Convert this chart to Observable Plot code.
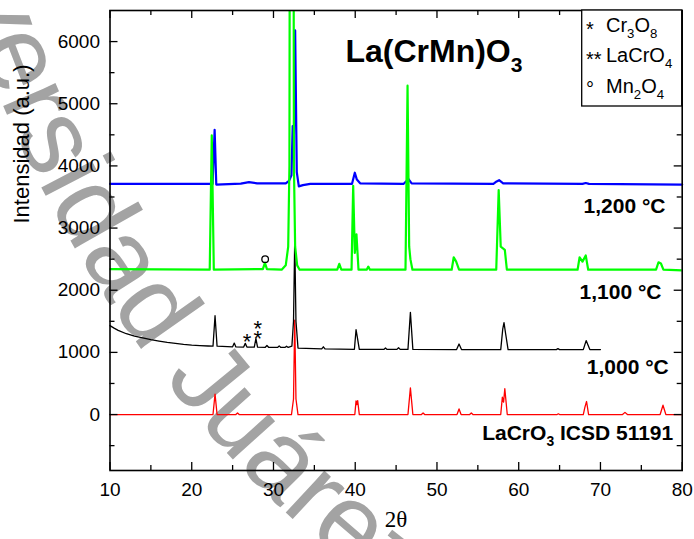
<!DOCTYPE html>
<html><head><meta charset="utf-8">
<script src="https://cdn.jsdelivr.net/npm/d3@7"></script>
<script src="https://cdn.jsdelivr.net/npm/@observablehq/plot@0.6"></script>
<style>body{margin:0;background:#fff;} #chart{width:694px;height:539px;}</style>
</head><body><div id="chart"></div>
<script>
// ---- axis ticks ----
const xTicks = [10, 20, 30, 40, 50, 60, 70, 80];
const xMinor = [15, 25, 35, 45, 55, 65, 75];
const yTicks = [0, 1000, 2000, 3000, 4000, 5000, 6000];
const yMinor = [-500, 500, 1500, 2500, 3500, 4500, 5500];

// ---- patterns: [2theta, intensity] ----
const ref51191 = [[10,0],[22.6,0],[22.85,330],[23.1,0],[25.4,0],[25.6,25],[25.8,0],[32.2,0],[32.45,250],[32.6,1520],[32.75,250],[33.0,0],
  [39.95,0],[40.1,220],[40.2,160],[40.3,225],[40.5,0],[46.45,0],[46.75,430],[47.05,0],[48.1,0],[48.3,25],[48.5,0],
  [52.45,0],[52.7,90],[52.95,0],[54.0,0],[54.2,25],[54.4,0],[57.8,0],[58.0,280],[58.15,200],[58.3,415],[58.6,0],
  [64.7,0],[64.85,12],[65.0,0],[67.9,0],[68.1,120],[68.3,210],[68.55,0],[72.7,0],[73.0,35],[73.3,0],[77.3,0],[77.65,150],[78.0,0],[80,0]];
const t1000 = [[10,1430],[10.5,1390],[11,1355],[12,1300],[13,1262],[14,1232],[15,1205],[16,1182],[17,1162],[18,1145],[19,1130],[20,1118],[21,1110],[22,1103],
  [22.6,1100],[22.85,1590],[23.1,1100],[25.0,1090],[25.2,1150],[25.4,1088],[26.35,1085],[26.55,1145],[26.75,1085],[27.65,1085],[27.85,1222],[28.05,1085],
  [29.0,1082],[29.2,1110],[29.4,1082],[30.5,1080],[30.7,1105],[30.9,1080],[31.4,1080],[31.6,1100],[31.8,1080],[32.25,1100],[32.45,1500],[32.6,2810],[32.75,1500],[33.0,1070],
  [35.9,1055],[36.1,1090],[36.3,1055],[39.9,1050],[40.1,1365],[40.25,1250],[40.5,1050],[43.5,1048],[43.7,1070],[43.9,1048],[45.1,1048],[45.3,1075],[45.5,1048],
  [46.45,1048],[46.75,1645],[47.05,1048],[52.4,1045],[52.7,1135],[53.0,1045],[57.8,1045],[58.05,1380],[58.2,1480],[58.4,1300],[58.7,1045],
  [64.6,1045],[64.8,1060],[65.0,1045],[67.9,1045],[68.25,1190],[68.7,1045],[70,1045]];
const t1100 = [[10,2340],[22.2,2330],[22.45,4490],[22.7,2330],[28.7,2340],[28.95,2440],[29.2,2340],[31.0,2330],[31.5,2400],[31.8,2700],[31.95,4000],[32.0,9000],
  [32.45,9000],[32.5,4000],[32.65,2700],[32.9,2400],[33.2,2330],[37.8,2330],[38.05,2425],[38.3,2330],[39.55,2330],[39.75,3680],[39.95,2600],[40.15,2900],[40.4,2330],
  [41.4,2330],[41.6,2380],[41.8,2330],[46.15,2330],[46.4,5290],[46.6,2700],[46.75,2500],[47.0,2330],[51.8,2330],[52.05,2530],[52.35,2460],[52.7,2330],
  [57.25,2330],[57.55,3610],[57.8,2700],[58.3,2650],[58.55,2330],[67.2,2330],[67.45,2530],[67.8,2460],[68.2,2560],[68.5,2330],[76.8,2330],[77.1,2450],[77.4,2430],[77.7,2330],[80,2320]];
const t1200 = [[10,3710],[22.55,3710],[22.8,4580],[23.0,3700],[26.0,3715],[27.0,3740],[28.0,3720],[31.5,3720],[31.9,3760],[32.2,3850],[32.35,4640],[32.5,4500],[32.65,6180],
  [32.85,3900],[33.1,3670],[33.6,3690],[34.5,3710],[39.6,3710],[39.95,3890],[40.2,3780],[40.6,3720],[45.9,3710],[46.3,3760],[46.5,3790],[46.9,3720],
  [56.9,3710],[57.3,3750],[57.6,3770],[58.1,3720],[67.8,3710],[68.2,3725],[68.6,3710],[80,3700]];

// ---- text ----
const curveLabels = ["1,200 °C", "1,100 °C", "1,000 °C", "LaCrO_3 ICSD 51191"];
const curveLabelX = [77.96, 77.47, 78.36, 78.9];
const curveLabelY = [3346, 1967, 756, -301];
const titleText = ["La(CrMn)O_3"];
const titleX = [38.8];
const titleY = [5834];
const starText = ["*", "*", "*"];
const starX = [26.75, 28.09, 28.09];
const starY = [1278, 1483, 1333];
const ringX = [28.98];
const ringY = [2500];
const legendSymbols = ["*", "**", "°"];
const legendNames = ["Cr_3O_8", "LaCrO_4", "Mn_2O_4"];
const xLabel = ["2θ"];
const yLabel = ["Intensidad (a.u.)"];
const watermark = "Universidad Juárez Autónoma de Tabasco";

const W = 694 - 109.5 - 12.3, H = 539 - 10 - 69;
const px = d => d[0], py = d => d[1];

const svg = Plot.plot({
  width: 694, height: 539,
  marginLeft: 109.5, marginRight: 12.3, marginTop: 10, marginBottom: 69,
  x: {domain: [10, 80]},
  y: {domain: [-900, 6500]},
  style: {fontFamily: "'Liberation Sans', Arial, sans-serif", fontSize: "19px", background: "white", color: "black"},
  marks: [
    Plot.line(ref51191, {x: px, y: py, stroke: "#ff0000", strokeWidth: 1.3}),
    Plot.line(t1000, {x: px, y: py, stroke: "#000000", strokeWidth: 1.3}),
    Plot.line(t1200, {x: px, y: py, stroke: "#0000ff", strokeWidth: 2.2}),
    Plot.line(t1100, {x: px, y: py, stroke: "#00ff00", strokeWidth: 2.2, clip: true}),
    Plot.frame({stroke: "black", strokeWidth: 1.6}),
    Plot.ruleX(xTicks, {insetTop: H - 8, stroke: "black", strokeWidth: 1.3}),
    Plot.ruleX(xMinor, {insetTop: H - 5, stroke: "black", strokeWidth: 1.3}),
    Plot.ruleX(xTicks, {insetBottom: H - 8, stroke: "black", strokeWidth: 1.3}),
    Plot.ruleX(xMinor, {insetBottom: H - 5, stroke: "black", strokeWidth: 1.3}),
    Plot.ruleY(yTicks, {insetRight: W - 8, stroke: "black", strokeWidth: 1.3}),
    Plot.ruleY(yMinor, {insetRight: W - 5, stroke: "black", strokeWidth: 1.3}),
    Plot.ruleY(yTicks, {insetLeft: W - 8, stroke: "black", strokeWidth: 1.3}),
    Plot.ruleY(yMinor, {insetLeft: W - 5, stroke: "black", strokeWidth: 1.3}),
    Plot.axisX({ticks: xTicks, tickSize: 0, tickPadding: 12, fontSize: 19, label: null, tickFormat: d => String(d)}),
    Plot.axisY({ticks: yTicks, tickSize: 0, tickPadding: 10, fontSize: 19, label: null, tickFormat: d => String(d)}),
    Plot.text(xLabel, {text: d => d, frameAnchor: "bottom", dy: 56, fontSize: 23, fontFamily: "'Liberation Serif', serif"}),
    Plot.text(yLabel, {text: d => d, frameAnchor: "left", dx: -88, dy: -17, rotate: -90, fontSize: 22}),
    Plot.text(curveLabels, {text: d => d, x: (d, i) => curveLabelX[i], y: (d, i) => curveLabelY[i], textAnchor: "end", fontWeight: "bold", fontSize: 21}),
    Plot.text(titleText, {text: d => d, x: (d, i) => titleX[i], y: (d, i) => titleY[i], textAnchor: "start", fontWeight: "bold", fontSize: 32}),
    Plot.text(starText, {text: d => d, x: (d, i) => starX[i], y: (d, i) => starY[i], fontSize: 22, dy: 7}),
    Plot.dot(ringX, {x: d => d, y: (d, i) => ringY[i], r: 3.3, stroke: "black", strokeWidth: 1.3, fill: "none"})
  ]
});

const NS = "http://www.w3.org/2000/svg";
function subscripts(el, fs) {
  const s = el.textContent;
  if (!s.includes("_")) return;
  const parts = s.split(/_(\d)/);
  el.textContent = "";
  const shift = 0.3 * fs;
  let down = false;
  parts.forEach((p, i) => {
    if (p === "") return;
    const t = document.createElementNS(NS, "tspan");
    t.textContent = p;
    if (i % 2 === 1) {
      t.setAttribute("font-size", (fs * 0.66).toFixed(1));
      if (!down) { t.setAttribute("dy", shift); down = true; }
    } else if (down) {
      t.setAttribute("dy", -shift); down = false;
    }
    el.appendChild(t);
  });
}
svg.querySelectorAll("text").forEach(el => {
  const fs = parseFloat(el.closest("[font-size]")?.getAttribute("font-size") || 19);
  subscripts(el, fs);
});

// watermark behind the plot
const wm = document.createElementNS(NS, "g");
wm.innerHTML = `<defs><path id="wmArc" d="M -87.8 -259.8 A 1207 1207 0 0 0 701.8 769.2"/></defs>
<text text-anchor="start" font-family="'Liberation Sans', Arial, sans-serif" font-size="108" fill="#a3a3a3"><textPath href="#wmArc" startOffset="95">${watermark}</textPath></text>`;
const firstG = svg.querySelector("g");
svg.insertBefore(wm, firstG);

// legend box
const lg = document.createElementNS(NS, "g");
lg.setAttribute("font-family", "'Liberation Sans', Arial, sans-serif");
lg.setAttribute("font-size", "20");
lg.setAttribute("text-anchor", "start");
const rect = document.createElementNS(NS, "rect");
Object.entries({x: 581.7, y: 10, width: 100, height: 96, fill: "white", stroke: "black", "stroke-width": 1.3}).forEach(([k, v]) => rect.setAttribute(k, v));
lg.appendChild(rect);
const rowsY = [25, 55, 86];
legendSymbols.forEach((s, i) => {
  const a = document.createElementNS(NS, "text");
  a.setAttribute("x", 586); a.setAttribute("y", rowsY[i]);
  a.setAttribute("font-size", 20);
  a.setAttribute("dy", s === "°" ? "0.5em" : "0.55em");
  a.textContent = s;
  lg.appendChild(a);
  const b = document.createElementNS(NS, "text");
  b.setAttribute("x", 606); b.setAttribute("y", rowsY[i]); b.setAttribute("dy", "0.35em");
  b.textContent = legendNames[i];
  subscripts(b, 20);
  lg.appendChild(b);
});
svg.appendChild(lg);

document.getElementById("chart").appendChild(svg);
</script></body></html>
